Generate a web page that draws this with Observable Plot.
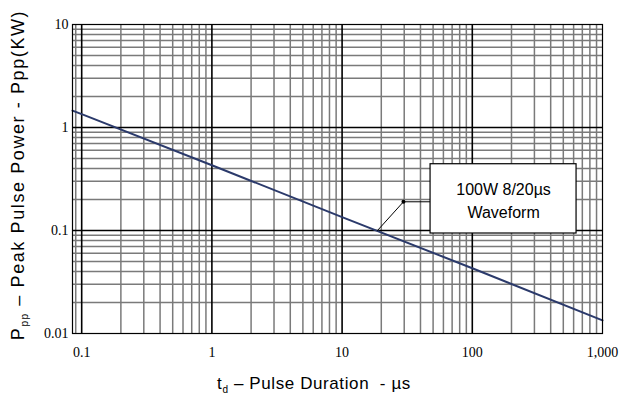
<!DOCTYPE html>
<html>
<head>
<meta charset="utf-8">
<script src="https://cdn.jsdelivr.net/npm/d3@7"></script>
<script src="https://cdn.jsdelivr.net/npm/@observablehq/plot@0.6"></script>
<style>
  html, body { margin: 0; padding: 0; background: #fff; }
  #chart svg { display: block; }
</style>
</head>
<body>
<div id="chart"></div>
<script>
// Pulse duration (µs) and peak pulse power (kW)
const duration = [0.085, 0.1, 1, 10, 100, 1000];
const power = [1.46, 1.35, 0.43, 0.135, 0.043, 0.0134];

// Tick labels
const xTicks = [0.1, 1, 10, 100, 1000];
const xTickLabels = ["0.1", "1", "10", "100", "1,000"];
const yTicks = [0.01, 0.1, 1, 10];
const yTickLabels = ["0.01", "0.1", "1", "10"];

// Annotation (data coordinates)
const noteLines = ["100W 8/20µs", "Waveform"];
const noteBox = {x1: 47.8, x2: 632, y1: 0.0935, y2: 0.44};
const noteArrowX = [18.7, 29.6, 47.8];
const noteArrowY = [0.1, 0.19, 0.19];

const xDomain = [0.085, 1000];
const yDomain = [0.01, 10];

// log grid values
const decadesX = [0.01, 0.1, 1, 10, 100, 1000];
const decadesY = [0.001, 0.01, 0.1, 1, 10];
const mult = [1, 2, 3, 4, 5, 6, 7, 8, 9];
const xGridMinor = decadesX.flatMap(d => mult.slice(1).map(m => d * m)).filter(v => v > xDomain[0] && v < xDomain[1]);
const yGridMinor = decadesY.flatMap(d => mult.slice(1).map(m => d * m)).filter(v => v > yDomain[0] && v < yDomain[1]);
const xGridMajor = decadesX.filter(v => v > xDomain[0] && v < xDomain[1]);
const yGridMajor = decadesY.filter(v => v > yDomain[0] && v < yDomain[1]);

const curve = duration.map((t, i) => ({t, p: power[i]}));
const arrow = noteArrowX.map((x, i) => ({x, y: noteArrowY[i]}));
const xLab = new Map(xTicks.map((v, i) => [v, xTickLabels[i]]));
const yLab = new Map(yTicks.map((v, i) => [v, yTickLabels[i]]));

const chart = Plot.plot({
  width: 621,
  height: 401,
  marginLeft: 72,
  marginRight: 19,
  marginTop: 24,
  marginBottom: 68,
  style: {fontFamily: "'Liberation Serif', serif", fontSize: "14px", background: "#fff", color: "#000"},
  x: {type: "log", domain: xDomain, ticks: xTicks, tickFormat: d => xLab.get(d), tickSize: 0, tickPadding: 14, label: null},
  y: {type: "log", domain: yDomain, ticks: yTicks, tickFormat: d => yLab.get(d), tickSize: 0, tickPadding: 4, label: null},
  marks: [
    Plot.ruleX(xGridMinor, {stroke: "#7a7a7a", strokeWidth: 1.5}),
    Plot.ruleY(yGridMinor, {stroke: "#7a7a7a", strokeWidth: 1.5}),
    Plot.ruleX(xGridMajor, {stroke: "#000", strokeWidth: 1.6}),
    Plot.ruleY(yGridMajor, {stroke: "#000", strokeWidth: 1.6}),
    Plot.line(curve, {x: "t", y: "p", stroke: "#2b3a6b", strokeWidth: 2}),
    Plot.line(arrow, {x: "x", y: "y", stroke: "#000", strokeWidth: 1}),
    Plot.dot([arrow[1]], {x: "x", y: "y", r: 2, fill: "#000"}),
    Plot.rect([noteBox], {x1: "x1", x2: "x2", y1: "y1", y2: "y2", fill: "#fff", stroke: "#000", strokeWidth: 1.2}),
    Plot.text([noteLines.join("\n")], {
      x: Math.sqrt(noteBox.x1 * noteBox.x2), y: Math.sqrt(noteBox.y1 * noteBox.y2),
      fontFamily: "'Liberation Sans', Arial, sans-serif", fontSize: 16, lineHeight: 1.45, fill: "#000",
      letterSpacing: "0.5px"
    }),
    Plot.frame({stroke: "#000", strokeWidth: 1.2})
  ]
});

// Axis titles with subscripts
const svg = d3.select(chart);
const sans = "'Liberation Sans', Arial, sans-serif";
const xt = svg.append("text")
  .attr("x", 314).attr("y", 389)
  .attr("text-anchor", "middle")
  .attr("font-family", sans).attr("font-size", 17).attr("letter-spacing", "0.6px").attr("fill", "#000");
xt.append("tspan").text("t");
xt.append("tspan").attr("font-size", 10).attr("dy", 4).text("d");
xt.append("tspan").attr("dy", -4).text(" \u2013 Pulse Duration  - µs");

const yt = svg.append("text")
  .attr("transform", "translate(24,175) rotate(-90)")
  .attr("text-anchor", "middle")
  .attr("font-family", sans).attr("font-size", 18).attr("letter-spacing", "1.6px").attr("fill", "#000");
yt.append("tspan").text("P");
yt.append("tspan").attr("font-size", 10).attr("dy", 4).text("pp");
yt.append("tspan").attr("dy", -4).text(" \u2013 Peak Pulse Power - Ppp(KW)");

document.getElementById("chart").append(chart);
</script>
</body>
</html>
